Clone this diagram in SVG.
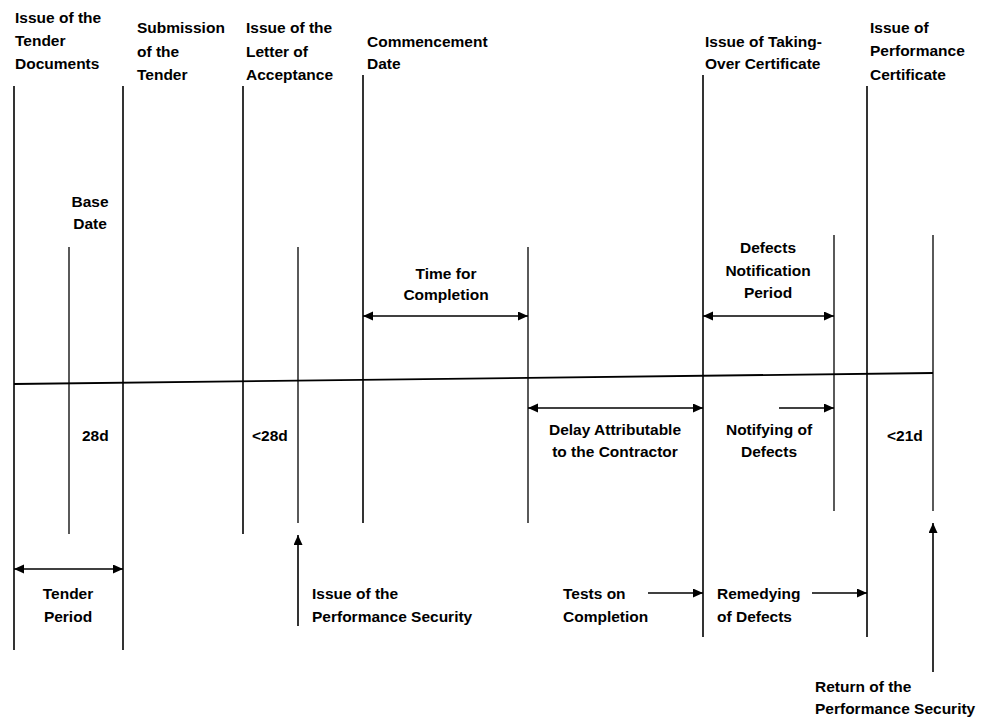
<svg xmlns="http://www.w3.org/2000/svg" width="984" height="718" viewBox="0 0 984 718">
  <style>
    text { font-family: "Liberation Sans", Arial, sans-serif; font-weight: bold; font-size: 15.5px; fill: #000; }
    .c { text-anchor: middle; }
    .ln { stroke: #000; stroke-width: 1.6; fill: none; }
    .thin { stroke: #000; stroke-width: 1.3; fill: none; }
    .axis { stroke: #000; stroke-width: 1.8; fill: none; }
    .arr { stroke: #000; stroke-width: 1.6; fill: none; marker-end: url(#head); }
    .dbl { stroke: #000; stroke-width: 1.6; fill: none; marker-start: url(#head); marker-end: url(#head); }
  </style>
  <defs>
    <marker id="head" markerUnits="userSpaceOnUse" markerWidth="11" markerHeight="10" refX="10" refY="4.5" orient="auto-start-reverse">
      <path d="M0,0 L10,4.5 L0,9 z" fill="#000"/>
    </marker>
  </defs>
  <rect width="984" height="718" fill="#fff"/>

  <!-- time axis -->
  <line id="axis" class="axis" x1="14" y1="384" x2="933" y2="373"/>

  <!-- milestones -->
  <g id="tender-documents">
    <line class="ln" x1="14" y1="86" x2="14" y2="650"/>
    <text x="15" y="23">Issue of the</text>
    <text x="15" y="46">Tender</text>
    <text x="15" y="68.5">Documents</text>
  </g>
  <g id="base-date">
    <line class="thin" x1="69" y1="247" x2="69" y2="534"/>
    <text class="c" x="90" y="207">Base</text>
    <text class="c" x="90" y="229">Date</text>
    <text x="82" y="441">28d</text>
  </g>
  <g id="submission">
    <line class="ln" x1="123" y1="86" x2="123" y2="650"/>
    <text x="137" y="33">Submission</text>
    <text x="137" y="57">of the</text>
    <text x="137" y="80">Tender</text>
  </g>
  <g id="letter-of-acceptance">
    <line class="ln" x1="243" y1="86" x2="243" y2="534"/>
    <text x="246" y="33">Issue of the</text>
    <text x="246" y="57">Letter of</text>
    <text x="246" y="80">Acceptance</text>
    <text x="252" y="441">&lt;28d</text>
  </g>
  <g id="performance-security">
    <line class="thin" x1="298" y1="247" x2="298" y2="523"/>
    <text x="312" y="599">Issue of the</text>
    <text x="312" y="622">Performance Security</text>
  </g>
  <g id="commencement">
    <line class="ln" x1="363" y1="75" x2="363" y2="523"/>
    <text x="367" y="47">Commencement</text>
    <text x="367" y="69">Date</text>
  </g>
  <g id="time-for-completion">
    <line class="thin" x1="528" y1="247" x2="528" y2="523"/>
    <text class="c" x="446" y="279">Time for</text>
    <text class="c" x="446" y="300">Completion</text>
    <text class="c" x="615" y="435">Delay Attributable</text>
    <text class="c" x="615" y="457">to the Contractor</text>
  </g>
  <g id="taking-over">
    <line class="ln" x1="703" y1="75" x2="703" y2="637"/>
    <text x="705" y="47">Issue of Taking-</text>
    <text x="705" y="69">Over Certificate</text>
    <text x="563" y="599">Tests on</text>
    <text x="563" y="622">Completion</text>
  </g>
  <g id="defects-notification">
    <line class="thin" x1="834" y1="235" x2="834" y2="511"/>
    <text class="c" x="768" y="253">Defects</text>
    <text class="c" x="768" y="276">Notification</text>
    <text class="c" x="768" y="298">Period</text>
    <text class="c" x="769" y="435">Notifying of</text>
    <text class="c" x="769" y="457">Defects</text>
  </g>
  <g id="performance-certificate">
    <line class="ln" x1="867" y1="86" x2="867" y2="637"/>
    <text x="870" y="33">Issue of</text>
    <text x="870" y="56">Performance</text>
    <text x="870" y="80">Certificate</text>
    <text x="717" y="599">Remedying</text>
    <text x="717" y="622">of Defects</text>
  </g>
  <g id="return-of-security">
    <line class="thin" x1="933" y1="235" x2="933" y2="511"/>
    <text x="887" y="441">&lt;21d</text>
    <text x="815" y="692">Return of the</text>
    <text x="815" y="714">Performance Security</text>
  </g>
  <g id="tender-period">
    <text class="c" x="68" y="599">Tender</text>
    <text class="c" x="68" y="622">Period</text>
  </g>

  <!-- connectors -->
  <g id="connectors">
    <line class="dbl" x1="14" y1="569" x2="123" y2="569"/>
    <line class="dbl" x1="363" y1="316" x2="528" y2="316"/>
    <line class="dbl" x1="703" y1="316" x2="834" y2="316"/>
    <line class="dbl" x1="528" y1="408" x2="703" y2="408"/>
    <line class="arr" x1="779" y1="408" x2="834" y2="408"/>
    <line class="arr" x1="298" y1="626" x2="298" y2="535"/>
    <line class="arr" x1="648" y1="593" x2="703" y2="593"/>
    <line class="arr" x1="812" y1="593" x2="867" y2="593"/>
    <line class="arr" x1="933" y1="672" x2="933" y2="523"/>
  </g>
</svg>
